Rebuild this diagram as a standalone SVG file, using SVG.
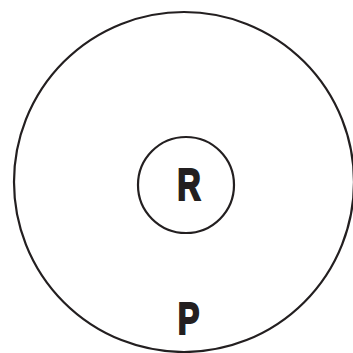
<svg xmlns="http://www.w3.org/2000/svg" width="353" height="353" viewBox="0 0 353 353">
<style>
.c{fill:none;stroke:#231f20;stroke-width:2.2}
.t{font-family:"Liberation Sans",Arial,sans-serif;font-weight:bold;font-size:44px;fill:#231f20;stroke:#231f20;stroke-width:2;stroke-linejoin:miter;text-anchor:middle}
</style>
<rect width="353" height="353" fill="#fff"/>
<g id="P">
<circle class="c" cx="184" cy="182" r="170"/>
<text class="t" transform="translate(188.5,333.5) scale(0.74,1)">P</text>
</g>
<g id="R">
<circle class="c" cx="186" cy="185" r="48"/>
<text class="t" transform="translate(189,200) scale(0.74,1)">R</text>
</g>
</svg>
